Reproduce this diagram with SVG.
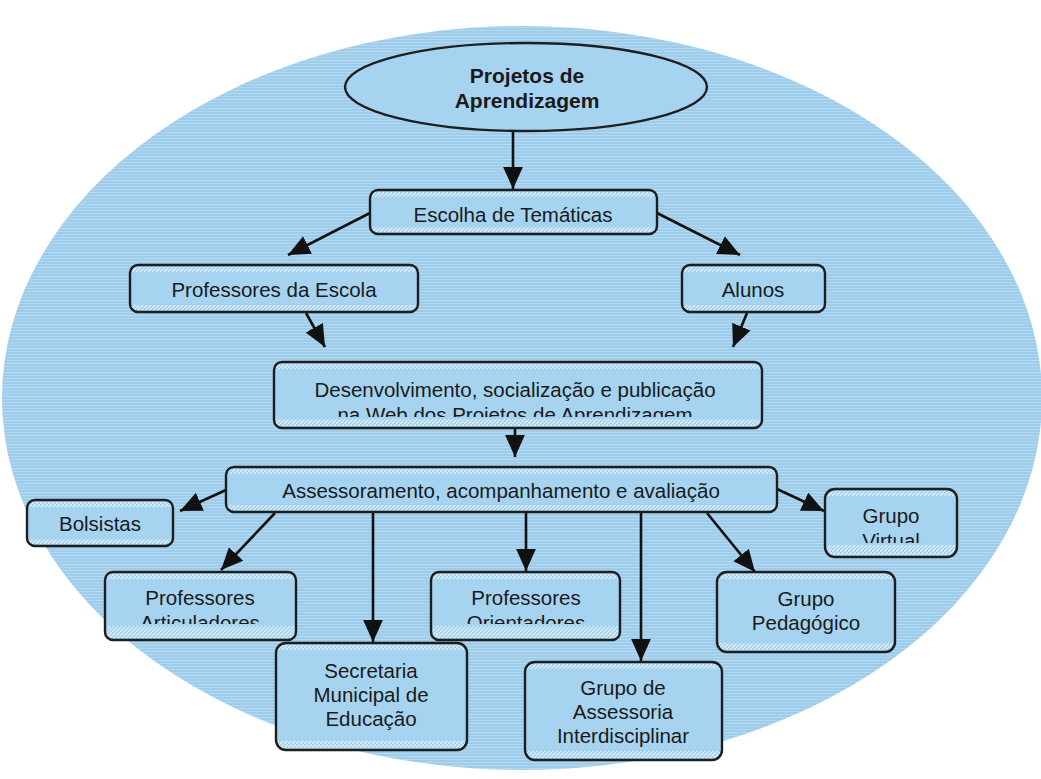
<svg xmlns="http://www.w3.org/2000/svg" width="1041" height="779" viewBox="0 0 1041 779">
  <defs>
    <pattern id="tex" width="4" height="3" patternUnits="userSpaceOnUse">
      <rect width="4" height="1" fill="#ffffff" opacity="0.22"/>
    </pattern>
    <pattern id="hatch" width="4" height="4" patternUnits="userSpaceOnUse">
      <path d="M0,4 L4,0" stroke="#eaf5fc" stroke-width="1.2" opacity="0.9"/>
    </pattern>
    <marker id="ah" viewBox="0 0 10 10" refX="10" refY="5" markerWidth="22" markerHeight="22" markerUnits="userSpaceOnUse" orient="auto">
      <path d="M0,0.5 L10,5 L0,9.5 z" fill="#111"/>
    </marker>
    <clipPath id="cDes"><rect x="274" y="362" width="488" height="55"/></clipPath>
    <clipPath id="cArt"><rect x="105" y="572" width="191" height="52"/></clipPath>
    <clipPath id="cOri"><rect x="431" y="572" width="189" height="52"/></clipPath>
    <clipPath id="cVir"><rect x="825" y="489" width="132" height="54"/></clipPath>
  </defs>
  <style>
    .bg { fill: #9ecdec; }
    .box { fill: #a6d4f0; }
    .band { fill: url(#hatch); }
    .frame { fill: none; stroke: #1e1e1e; stroke-width: 2.4; }
    .t { font-family: "Liberation Sans", Arial, sans-serif; font-size: 20.5px; fill: #1a1a1a; text-anchor: middle; }
    .tb { font-family: "Liberation Sans", Arial, sans-serif; font-size: 21px; font-weight: bold; fill: #1a1a1a; text-anchor: middle; }
    .c { fill: none; stroke: #111; stroke-width: 2.6; marker-end: url(#ah); }
  </style>

  <rect width="1041" height="779" fill="#ffffff"/>
  <ellipse class="bg" cx="522" cy="398" rx="520" ry="372"/>
  <ellipse cx="522" cy="398" rx="520" ry="372" fill="url(#tex)"/>

  <g id="connectors">
    <path class="c" d="M513,131 L513,189"/>
    <path class="c" d="M370,213 L288,255"/>
    <path class="c" d="M657,213 L740,255"/>
    <path class="c" d="M306,313 L325,347"/>
    <path class="c" d="M747,313 L733,347"/>
    <path class="c" d="M515,428 L515,457"/>
    <path class="c" d="M226,490 L180,511"/>
    <path class="c" d="M275,513 L221,570"/>
    <path class="c" d="M373,512 L373,642"/>
    <path class="c" d="M526,512 L526,571"/>
    <path class="c" d="M641,512 L641,661"/>
    <path class="c" d="M707,513 L755,572"/>
    <path class="c" d="M777,489 L824,511"/>
  </g>

  <g id="n-projetos">
    <ellipse cx="526" cy="87" rx="181" ry="44" class="box"/>
    <ellipse cx="526" cy="87" rx="181" ry="44" class="frame"/>
    <text class="tb" x="527" y="83">Projetos de</text>
    <text class="tb" x="527" y="108">Aprendizagem</text>
  </g>

  <g id="n-escolha">
    <rect class="box" x="370" y="190" width="287" height="44" rx="8"/>
    <rect class="band" x="372" y="192" width="283" height="5"/>
    <rect class="band" x="372" y="227" width="283" height="5"/>
    <text class="t" x="513" y="222">Escolha de Temáticas</text>
    <rect class="frame" x="370" y="190" width="287" height="44" rx="8"/>
  </g>

  <g id="n-profescola">
    <rect class="box" x="130" y="265" width="288" height="47" rx="8"/>
    <rect class="band" x="132" y="267" width="284" height="5"/>
    <rect class="band" x="132" y="305" width="284" height="5"/>
    <text class="t" x="274" y="297">Professores da Escola</text>
    <rect class="frame" x="130" y="265" width="288" height="47" rx="8"/>
  </g>

  <g id="n-alunos">
    <rect class="box" x="682" y="265" width="143" height="47" rx="8"/>
    <rect class="band" x="684" y="267" width="139" height="5"/>
    <rect class="band" x="684" y="305" width="139" height="5"/>
    <text class="t" x="753" y="297">Alunos</text>
    <rect class="frame" x="682" y="265" width="143" height="47" rx="8"/>
  </g>

  <g id="n-desenv">
    <rect class="box" x="274" y="362" width="488" height="66" rx="8"/>
    <rect class="band" x="276" y="364" width="484" height="5"/>
    <rect class="band" x="276" y="419" width="484" height="7"/>
    <text class="t" x="515" y="397">Desenvolvimento, socialização e publicação</text>
    <text class="t" x="515" y="422" clip-path="url(#cDes)">na Web dos Projetos de Aprendizagem</text>
    <rect class="frame" x="274" y="362" width="488" height="66" rx="8"/>
  </g>

  <g id="n-assess">
    <rect class="box" x="226" y="467" width="551" height="45" rx="8"/>
    <rect class="band" x="228" y="469" width="547" height="5"/>
    <rect class="band" x="228" y="505" width="547" height="5"/>
    <text class="t" x="501" y="498">Assessoramento, acompanhamento e avaliação</text>
    <rect class="frame" x="226" y="467" width="551" height="45" rx="8"/>
  </g>

  <g id="n-bolsistas">
    <rect class="box" x="27" y="500" width="146" height="46" rx="8"/>
    <rect class="band" x="29" y="502" width="142" height="5"/>
    <rect class="band" x="29" y="539" width="142" height="5"/>
    <text class="t" x="100" y="531">Bolsistas</text>
    <rect class="frame" x="27" y="500" width="146" height="46" rx="8"/>
  </g>

  <g id="n-profart">
    <rect class="box" x="105" y="572" width="191" height="68" rx="8"/>
    <rect class="band" x="107" y="574" width="187" height="5"/>
    <rect class="band" x="107" y="626" width="187" height="12"/>
    <text class="t" x="200" y="605">Professores</text>
    <text class="t" x="200" y="630" clip-path="url(#cArt)">Articuladores</text>
    <rect class="frame" x="105" y="572" width="191" height="68" rx="8"/>
  </g>

  <g id="n-secretaria">
    <rect class="box" x="276" y="643" width="191" height="107" rx="10"/>
    <rect class="band" x="278" y="645" width="187" height="5"/>
    <rect class="band" x="278" y="741" width="187" height="7"/>
    <text class="t" x="371" y="678">Secretaria</text>
    <text class="t" x="371" y="702">Municipal de</text>
    <text class="t" x="371" y="726">Educação</text>
    <rect class="frame" x="276" y="643" width="191" height="107" rx="10"/>
  </g>

  <g id="n-profori">
    <rect class="box" x="431" y="572" width="189" height="68" rx="8"/>
    <rect class="band" x="433" y="574" width="185" height="5"/>
    <rect class="band" x="433" y="626" width="185" height="12"/>
    <text class="t" x="526" y="605">Professores</text>
    <text class="t" x="526" y="630" clip-path="url(#cOri)">Orientadores</text>
    <rect class="frame" x="431" y="572" width="189" height="68" rx="8"/>
  </g>

  <g id="n-grupoass">
    <rect class="box" x="525" y="662" width="197" height="98" rx="10"/>
    <rect class="band" x="527" y="664" width="193" height="5"/>
    <rect class="band" x="527" y="751" width="193" height="7"/>
    <text class="t" x="623" y="695">Grupo de</text>
    <text class="t" x="623" y="719">Assessoria</text>
    <text class="t" x="623" y="743">Interdisciplinar</text>
    <rect class="frame" x="525" y="662" width="197" height="98" rx="10"/>
  </g>

  <g id="n-grupoped">
    <rect class="box" x="717" y="572" width="178" height="80" rx="10"/>
    <rect class="band" x="719" y="574" width="174" height="5"/>
    <rect class="band" x="719" y="643" width="174" height="7"/>
    <text class="t" x="806" y="606">Grupo</text>
    <text class="t" x="806" y="630">Pedagógico</text>
    <rect class="frame" x="717" y="572" width="178" height="80" rx="10"/>
  </g>

  <g id="n-grupovirt">
    <rect class="box" x="825" y="489" width="132" height="68" rx="10"/>
    <rect class="band" x="827" y="491" width="128" height="5"/>
    <rect class="band" x="827" y="545" width="128" height="10"/>
    <text class="t" x="891" y="523">Grupo</text>
    <text class="t" x="891" y="548" clip-path="url(#cVir)">Virtual</text>
    <rect class="frame" x="825" y="489" width="132" height="68" rx="10"/>
  </g>
</svg>
